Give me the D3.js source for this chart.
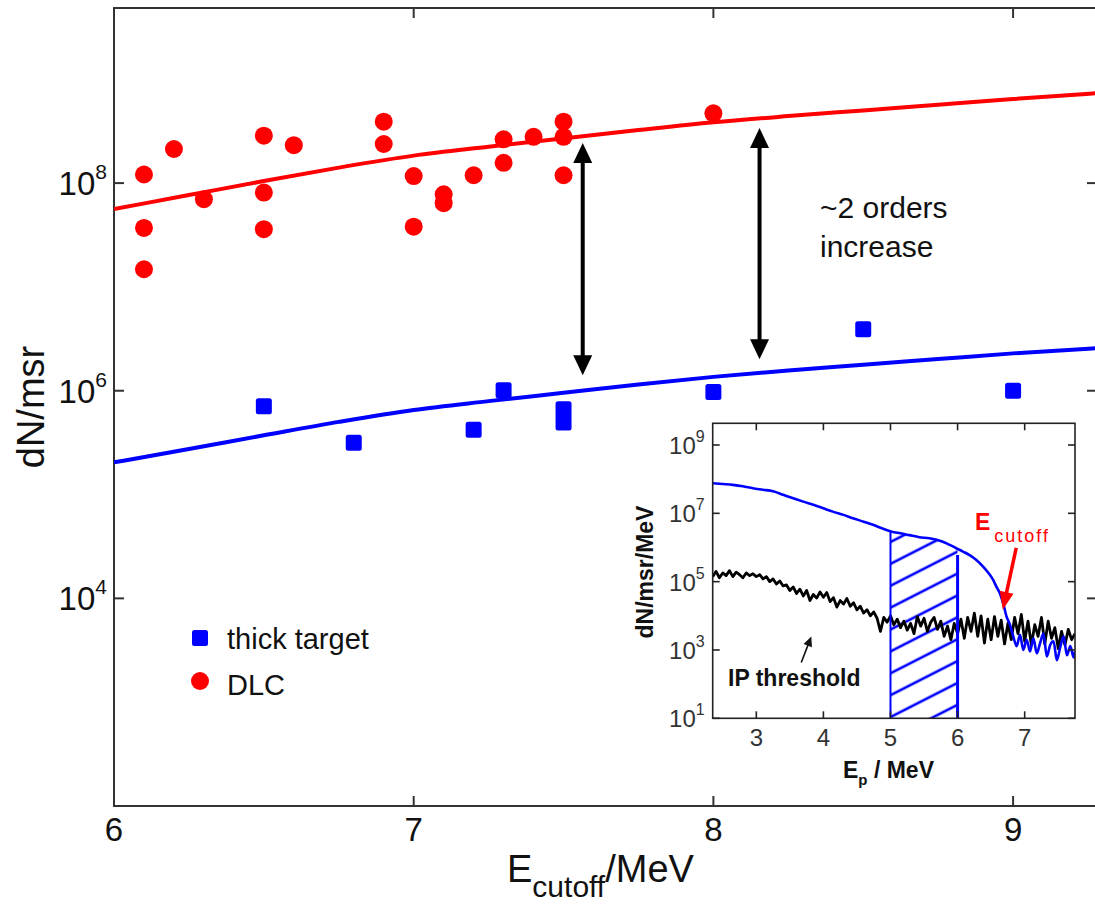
<!DOCTYPE html>
<html><head><meta charset="utf-8">
<script src="https://cdn.jsdelivr.net/npm/d3@7"></script>
<style>
body{margin:0;background:#fff}
svg{display:block}
text{font-family:"Liberation Sans",Arial,Helvetica,sans-serif}
</style>
</head><body>
<svg id="c" width="1095" height="907"></svg>
<script>
// ---------------- DATA ----------------
// DLC (red circles)
const dlcE = [6.1,6.1,6.1,6.2,6.3,6.5,6.5,6.5,6.6,6.9,6.9,7.0,7.0,7.1,7.1,7.2,7.3,7.3,7.4,7.5,7.5,7.5,8.0];
const dlcN = [1.21e8,3.7e7,1.48e7,2.13e8,7.0e7,2.86e8,8.1e7,3.6e7,2.32e8,3.9e8,2.38e8,1.17e8,3.8e7,7.8e7,6.4e7,1.19e8,2.64e8,1.57e8,2.79e8,3.9e8,2.79e8,1.19e8,4.7e8];
// thick target (blue squares)
const thickE = [6.5,6.8,7.2,7.3,7.5,7.5,8.0,8.5,9.0];
const thickN = [7.1e5,3.15e5,4.2e5,1.01e6,6.65e5,4.93e5,9.7e5,3.9e6,1.0e6];
// fit curves
const fitE     = [6.0,6.25,6.5,6.75,7.0,7.25,7.5,7.75,8.0,8.25,8.5,8.75,9.0,9.28];
const dlcFit   = [5.62e7,7.67e7,1.047e8,1.41e8,1.84e8,2.24e8,2.70e8,3.24e8,3.85e8,4.42e8,5.01e8,5.69e8,6.46e8,7.35e8];
const thickFit = [2.04e5,2.75e5,3.72e5,5.01e5,6.53e5,7.94e5,9.55e5,1.15e6,1.36e6,1.57e6,1.78e6,2.02e6,2.29e6,2.57e6];
// double arrows
const arrowE = [7.564, 8.154];
const arrowTop = [2.43e8, 3.39e8];
const arrowBottom = [1.41e6, 2.01e6];
// axis ticks
const xTicks = [6,7,8,9];
const yTicks = [1e4,1e6,1e8];

// inset: proton spectrum (blue) and IP threshold (black)
const specE = [2.35,2.50,2.65,2.80,2.95,3.10,3.25,3.40,3.55,3.70,3.85,4.00,4.14,4.30,4.44,4.60,4.74,4.88,5.02,5.15,5.28,5.43,5.58,5.78,5.98,6.08,6.18,6.28,6.38,6.46,6.53,6.58,6.63,6.68,6.73,6.78,6.83,6.88,6.93,6.98,7.03,7.08,7.13,7.18,7.23,7.28,7.33,7.38,7.43,7.48,7.53,7.58,7.63,7.68,7.73,7.75];
const specN = [7.6e7,7.2e7,6.8e7,6.2e7,5.4e7,4.9e7,4.4e7,3.5e7,2.75e7,2.2e7,1.78e7,1.4e7,1.12e7,9.0e6,7.2e6,5.7e6,4.6e6,3.6e6,2.9e6,2.6e6,2.3e6,2.0e6,1.86e6,1.48e6,9.5e5,7.6e5,6.0e5,4.3e5,2.75e5,1.8e5,1.12e5,7.0e4,4.6e4,2.3e4,9.5e3,5.5e3,2.5e3,1.3e3,2.8e3,1.0e3,2.0e3,9.0e2,2.2e3,8.0e2,1.6e3,3.0e3,6.5e2,1.4e3,1.8e3,5.0e2,1.2e3,2.5e3,7.0e2,1.3e3,6.0e2,9.0e2];
const ipE = [2.35,2.40,2.45,2.50,2.55,2.60,2.65,2.70,2.75,2.80,2.85,2.90,2.95,3.00,3.05,3.10,3.15,3.20,3.25,3.30,3.35,3.40,3.45,3.50,3.55,3.60,3.65,3.70,3.75,3.80,3.85,3.90,3.95,4.00,4.05,4.10,4.15,4.20,4.25,4.30,4.35,4.40,4.45,4.50,4.55,4.60,4.65,4.70,4.75,4.80,4.85,4.90,4.95,5.00,5.05,5.10,5.15,5.20,5.25,5.30,5.35,5.40,5.45,5.50,5.55,5.60,5.65,5.70,5.75,5.80,5.85,5.90,5.95,6.00,6.05,6.10,6.15,6.20,6.25,6.30,6.35,6.40,6.45,6.50,6.55,6.60,6.65,6.70,6.75,6.80,6.85,6.90,6.95,7.00,7.05,7.10,7.15,7.20,7.25,7.30,7.35,7.40,7.45,7.50,7.55,7.60,7.65,7.70,7.75];
const ipN = [1.4e5,2.0e5,1.3e5,1.8e5,1.5e5,2.1e5,1.4e5,1.9e5,1.6e5,1.3e5,1.8e5,1.5e5,1.7e5,1.4e5,1.6e5,1.2e5,1.4e5,1.0e5,1.2e5,8.5e4,1.05e5,7.5e4,8.0e4,5.5e4,7.0e4,4.5e4,6.0e4,3.8e4,5.5e4,2.8e4,4.2e4,3.3e4,5.0e4,3.5e4,4.8e4,2.6e4,3.4e4,1.8e4,2.8e4,2.2e4,3.2e4,1.9e4,2.4e4,1.5e4,1.9e4,1.2e4,1.5e4,1.0e4,1.3e4,8.5e3,3.5e3,9.0e3,6.5e3,1.0e4,5.5e3,8.0e3,4.5e3,7.0e3,3.8e3,6.0e3,3.0e3,9.5e3,5.0e3,8.5e3,3.5e3,6.5e3,9.0e3,4.0e3,7.0e3,2.5e3,5.0e3,2.0e3,6.0e3,3.0e3,8.0e3,2.2e3,9.0e3,3.5e3,1.2e4,2.5e3,1.0e4,1.6e3,8.0e3,2.0e3,9.5e3,2.5e3,7.5e3,1.5e3,6.0e3,2.0e3,9.0e3,3.0e3,1.1e4,1.8e3,7.0e3,1.4e3,5.5e3,2.5e3,9.0e3,1.5e3,7.0e3,2.2e3,4.5e3,1.1e3,3.5e3,1.4e3,4.0e3,2.0e3,3.0e3];
const hatchE = [5, 6];
const hatchTop = [2.9e6, 6.0e5];
const insetXTicks = [3,4,5,6,7];
const insetYTicks = [1e1,1e3,1e5,1e7,1e9];
// inset annotation arrows
const ipArrow = {from:[3.67, 4.3e2], to:[3.82, 2.5e3]};
const cutArrow = {from:[6.874, 9.8e5], to:[6.674, 1.5e4]};

// ---------------- DRAW ----------------
const svg = d3.select('#c');
const RED = '#ff0000', BLUE = '#0000ff';
const L = 114, R = 1097, T = 8, B = 806;
const x = d3.scaleLinear().domain([6, 9.28]).range([L, R]);
const y = d3.scaleLog().domain([1e2, 4.86e9]).range([B, T]);

const defs = svg.append('defs');
defs.append('clipPath').attr('id','plotclip').append('rect')
  .attr('x',L).attr('y',T).attr('width',R-L).attr('height',B-T);

// frame
const frame = svg.append('g').attr('stroke','#333').attr('stroke-width',2).attr('fill','none');
frame.append('path').attr('d',`M${L},${T}H${R}V${B}H${L}Z`);
xTicks.slice(1).forEach(v=>{
  frame.append('line').attr('x1',x(v)).attr('x2',x(v)).attr('y1',B).attr('y2',B-10);
  frame.append('line').attr('x1',x(v)).attr('x2',x(v)).attr('y1',T).attr('y2',T+10);
});
yTicks.forEach(v=>{
  frame.append('line').attr('x1',L).attr('x2',L+10).attr('y1',y(v)).attr('y2',y(v));
  frame.append('line').attr('x1',R).attr('x2',R-10).attr('y1',y(v)).attr('y2',y(v));
});
xTicks.forEach(v=>{
  svg.append('text').attr('x',x(v)).attr('y',B+35).attr('text-anchor','middle')
    .attr('font-size',33).attr('fill','#111').text(v);
});
function powText(parent, px, py, v, fs, sfs, sdy){
  const e = Math.round(Math.log10(v));
  const t = parent.append('text').attr('x',px).attr('y',py).attr('text-anchor','end').attr('fill','#111');
  t.append('tspan').attr('font-size',fs).text('10');
  t.append('tspan').attr('font-size',sfs).attr('dy',sdy).text(e);
  return t;
}
yTicks.forEach(v=> powText(svg, L-7, y(v)+12, v, 33, 21, -16));

// axis labels
svg.append('text').attr('transform',`translate(44,407) rotate(-90)`).attr('text-anchor','middle')
  .attr('font-size',38).attr('fill','#111').text('dN/msr');
const xl = svg.append('text').attr('x',507).attr('y',882).attr('fill','#111');
xl.append('tspan').attr('font-size',38).text('E');
xl.append('tspan').attr('font-size',30).attr('dy',15).text('cutoff');
xl.append('tspan').attr('font-size',38).attr('dy',-15).text('/MeV');

// fit lines
const plot = svg.append('g').attr('clip-path','url(#plotclip)');
const fitLine = d3.line().x(d=>x(d[0])).y(d=>y(d[1])).curve(d3.curveMonotoneX);
plot.append('path').attr('d',fitLine(fitE.map((e,i)=>[e,dlcFit[i]])))
  .attr('fill','none').attr('stroke',RED).attr('stroke-width',4);
plot.append('path').attr('d',fitLine(fitE.map((e,i)=>[e,thickFit[i]])))
  .attr('fill','none').attr('stroke',BLUE).attr('stroke-width',4);

// markers
plot.selectAll('circle.dlc').data(dlcE).join('circle').attr('class','dlc')
  .attr('cx',(d)=>x(d)).attr('cy',(d,i)=>y(dlcN[i])).attr('r',9).attr('fill',RED);
plot.selectAll('rect.thick').data(thickE).join('rect').attr('class','thick')
  .attr('x',d=>x(d)-8).attr('y',(d,i)=>y(thickN[i])-8).attr('width',16).attr('height',16)
  .attr('rx',2.5).attr('fill',BLUE);

// double arrows
function arrowHead(g, tx, ty, dir, len, hw, color){
  g.append('path').attr('d',`M${tx},${ty}L${tx-hw},${ty+dir*len}L${tx+hw},${ty+dir*len}Z`).attr('fill',color);
}
arrowE.forEach((e,i)=>{
  const g = svg.append('g');
  const xx = x(e), yt = y(arrowTop[i]), yb = y(arrowBottom[i]);
  g.append('line').attr('x1',xx).attr('x2',xx).attr('y1',yt+15).attr('y2',yb-15)
    .attr('stroke','#000').attr('stroke-width',4);
  arrowHead(g, xx, yt, 1, 20, 9.5, '#000');
  arrowHead(g, xx, yb, -1, 20, 9.5, '#000');
});
svg.append('text').attr('x',820).attr('y',218).attr('font-size',30).attr('fill','#111').text('~2 orders');
svg.append('text').attr('x',820).attr('y',257).attr('font-size',30).attr('fill','#111').text('increase');

// legend
svg.append('rect').attr('x',192).attr('y',630).attr('width',16).attr('height',16).attr('rx',2.5).attr('fill',BLUE);
svg.append('text').attr('x',227).attr('y',649).attr('font-size',29).attr('fill','#111').text('thick target');
svg.append('circle').attr('cx',200).attr('cy',681).attr('r',9).attr('fill',RED);
svg.append('text').attr('x',227).attr('y',695).attr('font-size',29).attr('fill','#111').text('DLC');

// ---------------- INSET ----------------
const IL = 712.7, IR = 1075, IT = 423.3, IB = 718.3;
const ix = d3.scaleLinear().domain([2.35, 7.75]).range([IL, IR]);
const iy = d3.scaleLog().domain([10, Math.pow(10,9.635)]).range([IB, IT]);
const inset = svg.append('g');
inset.append('rect').attr('x',IL).attr('y',IT).attr('width',IR-IL).attr('height',IB-IT)
  .attr('fill','#fff').attr('stroke','none');
defs.append('clipPath').attr('id','insetclip').append('rect')
  .attr('x',IL).attr('y',IT).attr('width',IR-IL).attr('height',IB-IT);
defs.append('clipPath').attr('id','hatchclip').append('rect')
  .attr('x',ix(hatchE[0])).attr('y',IT).attr('width',ix(hatchE[1])-ix(hatchE[0])).attr('height',IB-IT);
const pat = defs.append('pattern').attr('id','hatch').attr('patternUnits','userSpaceOnUse')
  .attr('width',12).attr('height',19.5).attr('patternTransform','rotate(-27)');
pat.append('line').attr('x1',-1).attr('x2',13).attr('y1',9.7).attr('y2',9.7)
  .attr('stroke',BLUE).attr('stroke-width',2.6);

const ic = inset.append('g').attr('clip-path','url(#insetclip)');
const specPts = specE.map((e,i)=>[e,specN[i]]);
const area = d3.area().x(d=>ix(d[0])).y0(IB).y1(d=>iy(d[1])).curve(d3.curveMonotoneX);
ic.append('g').attr('clip-path','url(#hatchclip)').append('path')
  .attr('d',area(specPts)).attr('fill','url(#hatch)');
const iline = d3.line().x(d=>ix(d[0])).y(d=>iy(d[1]));
ic.append('path').attr('d',iline(ipE.map((e,i)=>[e,ipN[i]])))
  .attr('fill','none').attr('stroke','#000').attr('stroke-width',2.8).attr('stroke-linejoin','round');
ic.append('path').attr('d',iline.curve(d3.curveMonotoneX)(specPts))
  .attr('fill','none').attr('stroke',BLUE).attr('stroke-width',2.6);
ic.append('line').attr('x1',ix(hatchE[0])).attr('x2',ix(hatchE[0])).attr('y1',IB).attr('y2',iy(hatchTop[0]))
  .attr('stroke',BLUE).attr('stroke-width',2);
ic.append('line').attr('x1',ix(hatchE[1])).attr('x2',ix(hatchE[1])).attr('y1',IB).attr('y2',iy(hatchTop[1]))
  .attr('stroke',BLUE).attr('stroke-width',3);

const ifr = inset.append('g').attr('stroke','#222').attr('stroke-width',1.6).attr('fill','none');
ifr.append('rect').attr('x',IL).attr('y',IT).attr('width',IR-IL).attr('height',IB-IT);
insetXTicks.forEach(v=>{
  ifr.append('line').attr('x1',ix(v)).attr('x2',ix(v)).attr('y1',IB).attr('y2',IB-7);
  ifr.append('line').attr('x1',ix(v)).attr('x2',ix(v)).attr('y1',IT).attr('y2',IT+7);
  inset.append('text').attr('x',ix(v)).attr('y',IB+28).attr('text-anchor','middle')
    .attr('font-size',24).attr('fill','#333').text(v);
});
insetYTicks.forEach(v=>{
  ifr.append('line').attr('x1',IL).attr('x2',IL+7).attr('y1',iy(v)).attr('y2',iy(v));
  ifr.append('line').attr('x1',IR).attr('x2',IR-7).attr('y1',iy(v)).attr('y2',iy(v));
  powText(inset, IL-8, iy(v)+9, v, 24, 16, -12).attr('fill','#333');
});
inset.append('text').attr('transform',`translate(653,572) rotate(-90)`).attr('text-anchor','middle')
  .attr('font-size',23).attr('font-weight','bold').attr('fill','#111').text('dN/msr/MeV');
const ixl = inset.append('text').attr('x',843).attr('y',778).attr('font-weight','bold').attr('fill','#111');
ixl.append('tspan').attr('font-size',23).text('E');
ixl.append('tspan').attr('font-size',15).attr('dy',7).text('p');
ixl.append('tspan').attr('font-size',23).attr('dy',-7).text(' / MeV');

inset.append('text').attr('x',728).attr('y',686).attr('font-size',23).attr('font-weight','bold')
  .attr('fill','#111').text('IP threshold');
function thinArrow(g, a, b, color, w, len, hw){
  const x1 = ix(a[0]), y1 = iy(a[1]), x2 = ix(b[0]), y2 = iy(b[1]);
  const ang = Math.atan2(y2-y1, x2-x1);
  const bx = x2 - len*Math.cos(ang), by = y2 - len*Math.sin(ang);
  g.append('line').attr('x1',x1).attr('y1',y1).attr('x2',bx+2*Math.cos(ang)).attr('y2',by+2*Math.sin(ang))
    .attr('stroke',color).attr('stroke-width',w);
  const px = -Math.sin(ang)*hw, py = Math.cos(ang)*hw;
  g.append('path').attr('d',`M${x2},${y2}L${bx+px},${by+py}L${bx-px},${by-py}Z`).attr('fill',color);
}
thinArrow(inset, ipArrow.from, ipArrow.to, '#111', 1.6, 10, 4.5);
thinArrow(inset, cutArrow.from, cutArrow.to, RED, 3.5, 18, 7);
const ec = inset.append('text').attr('x',975).attr('y',530).attr('fill',RED);
ec.append('tspan').attr('font-size',23).attr('font-weight','bold').text('E');
ec.append('tspan').attr('font-size',18).attr('dy',12).attr('dx',4).attr('letter-spacing',2).text('cutoff');
</script>
</body></html>
